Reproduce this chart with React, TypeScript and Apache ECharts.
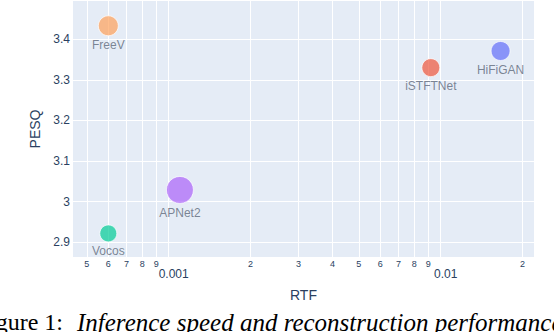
import React, { useEffect, useRef } from 'react';
import * as echarts from 'echarts';

const models = ['FreeV', 'Vocos', 'APNet2', 'iSTFTNet', 'HiFiGAN'];
const rtf = [0.0006, 0.0006, 0.0011, 0.0092, 0.0166];
const pesq = [3.433, 2.922, 3.029, 3.33, 3.371];
const markerSizes = [20, 17, 27, 18, 19];
const colors = ['#FFA15A', '#00CC96', '#AB63FA', '#EF553B', '#636EFA'];

const xTickValues = [
  0.0005, 0.0006, 0.0007, 0.0008, 0.0009, 0.001,
  0.002, 0.003, 0.004, 0.005, 0.006, 0.007, 0.008, 0.009, 0.01, 0.02,
];
const xTickLabels = [
  '5', '6', '7', '8', '9', '0.001',
  '2', '3', '4', '5', '6', '7', '8', '9', '0.01', '2',
];
const yTickValues = [2.9, 3, 3.1, 3.2, 3.3, 3.4];
const yTickLabels = ['2.9', '3', '3.1', '3.2', '3.3', '3.4'];

const FONT = '"Liberation Sans", Arial, sans-serif';
const TICK_COLOR = '#2a3f5f';

function xLabel(v: number): string {
  for (let i = 0; i < xTickValues.length; i++) {
    if (Math.abs(v - xTickValues[i]) / xTickValues[i] < 1e-4) {
      const t = xTickLabels[i];
      return t.indexOf('.') >= 0 ? '{big|' + t + '}' : '{small|' + t + '}';
    }
  }
  return '';
}
function yLabel(v: number): string {
  for (let i = 0; i < yTickValues.length; i++) {
    if (Math.abs(v - yTickValues[i]) < 1e-6) return yTickLabels[i];
  }
  return '';
}

export default function App() {
  const ref = useRef<HTMLDivElement>(null);
  useEffect(() => {
    if (!ref.current) return;
    const chart = echarts.init(ref.current, null, { renderer: 'svg' });
    const data = models.map((m, i) => ({
      name: m,
      value: [rtf[i], pesq[i]],
      symbolSize: markerSizes[i],
      itemStyle: { color: colors[i], opacity: 0.7, borderColor: '#ffffff', borderWidth: 1 },
    }));
    chart.setOption({
      animation: false,
      backgroundColor: '#ffffff',
      grid: {
        left: 73, right: 20, top: 1, bottom: 75,
        show: true, backgroundColor: '#E5ECF6', borderWidth: 0,
      },
      xAxis: {
        type: 'log',
        logBase: 10,
        min: 0.000445,
        max: 0.02203,
        name: 'RTF',
        nameLocation: 'middle',
        nameGap: 31,
        nameTextStyle: { color: TICK_COLOR, fontSize: 14, fontFamily: FONT },
        axisLine: { show: false },
        axisTick: { show: false, customValues: xTickValues },
        splitLine: { show: true, lineStyle: { color: '#ffffff', width: 1 } },
        axisLabel: {
          customValues: xTickValues,
          margin: 2,
          formatter: (v: number) => xLabel(v),
          rich: {
            small: { fontSize: 9, color: TICK_COLOR, fontFamily: FONT },
            big: { fontSize: 12, color: TICK_COLOR, fontFamily: FONT, padding: [9, 0, 0, 10] },
          },
        },
      },
      yAxis: {
        type: 'value',
        min: 2.864,
        max: 3.494,
        name: 'PESQ',
        nameLocation: 'middle',
        nameGap: 24,
        nameTextStyle: { color: TICK_COLOR, fontSize: 14, fontFamily: FONT },
        axisLine: { show: false },
        axisTick: { show: false, customValues: yTickValues },
        splitLine: { show: true, lineStyle: { color: '#ffffff', width: 1 } },
        axisLabel: {
          customValues: yTickValues,
          margin: 3,
          color: TICK_COLOR,
          fontSize: 12,
          fontFamily: FONT,
          formatter: (v: number) => yLabel(v),
        },
      },
      series: [
        {
          type: 'scatter',
          data,
          label: {
            show: true,
            position: 'bottom',
            distance: 3,
            formatter: '{b}',
            color: '#4a5568',
            fontSize: 12,
            fontFamily: FONT,
          },
        },
      ],
      graphic: [
        {
          type: 'text',
          x: 63,
          y: 322,
          style: {
            text: 'Figure 1:',
            align: 'right',
            verticalAlign: 'middle',
            fontSize: 24,
            fontFamily: '"Liberation Serif", "Times New Roman", serif',
            fill: '#000000',
          },
        },
        {
          type: 'text',
          x: 77,
          y: 322,
          style: {
            text: 'Inference speed and reconstruction performance',
            align: 'left',
            verticalAlign: 'middle',
            fontSize: 25,
            fontStyle: 'italic',
            fontFamily: '"Liberation Serif", "Times New Roman", serif',
            fill: '#000000',
          },
        },
      ],
    });
    return () => chart.dispose();
  }, []);
  return (
    <div
      ref={ref}
      style={{ position: 'fixed', left: 0, top: 0, width: 554, height: 332, overflow: 'hidden' }}
    />
  );
}
